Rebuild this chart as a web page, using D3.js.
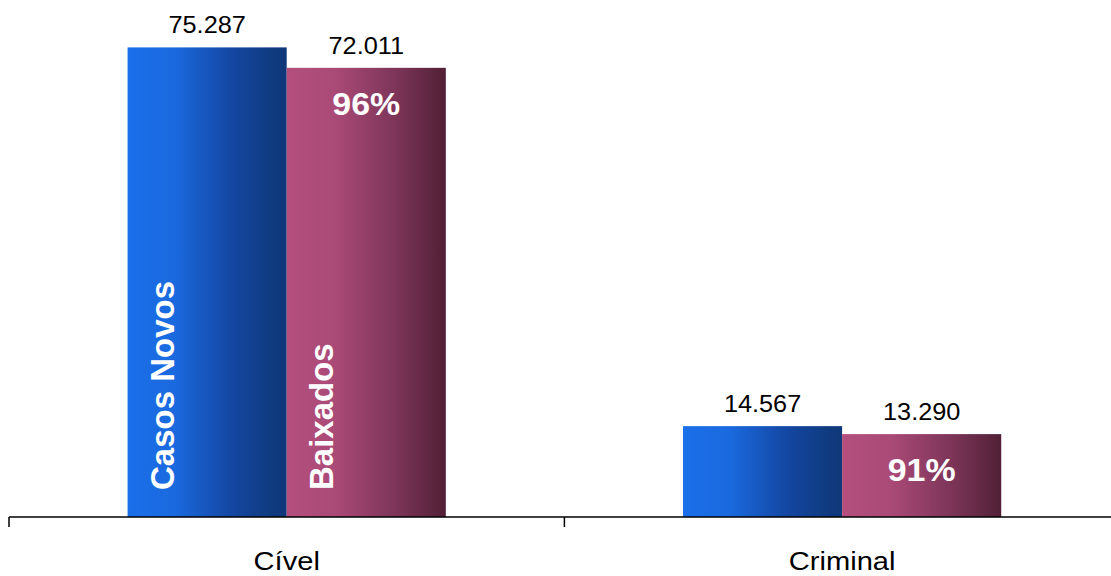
<!DOCTYPE html>
<html>
<head>
<meta charset="utf-8">
<script src="https://cdn.jsdelivr.net/npm/d3@7"></script>
<style>
  html, body { margin: 0; padding: 0; background: #fff; }
  svg { display: block; font-family: Arial, "Liberation Sans", sans-serif; }
</style>
</head>
<body>
<svg id="chart" width="1111" height="576"></svg>
<script>
// ---- data ----
const categories = ["Cível", "Criminal"];
const seriesNames = ["Casos Novos", "Baixados"];
const casosNovos = [75287, 14567];
const baixados = [72011, 13290];

// ---- layout ----
const W = 1111, H = 576;
const margin = { top: 18, left: 9, bottom: 59 };
const axisY = H - margin.bottom; // 517
const bandRight = 1119.8;

const svg = d3.select("#chart");

const locale = d3.formatLocale({ decimal: ",", thousands: ".", grouping: [3], currency: ["R$", ""] });
const fmt = locale.format(",d");

const x0 = d3.scaleBand()
  .domain(categories)
  .range([margin.left, bandRight])
  .paddingInner(0.427)
  .paddingOuter(0.2135);

const x1 = d3.scaleBand()
  .domain(seriesNames)
  .range([0, x0.bandwidth()])
  .padding(0);

const y = d3.scaleLinear()
  .domain([0, 80000])
  .range([axisY, margin.top]);

// gradients
const defs = svg.append("defs");
const gradStops = {
  "Casos Novos": [[0, "#1b6fea"], [0.3, "#1a69de"], [0.65, "#1447a3"], [0.92, "#0f3a7e"], [1, "#0f387a"]],
  "Baixados": [[0, "#b44f7d"], [0.3, "#aa4a77"], [0.7, "#7b3457"], [1, "#512036"]]
};
seriesNames.forEach((s, i) => {
  const g = defs.append("linearGradient")
    .attr("id", "grad" + i)
    .attr("x1", "0%").attr("x2", "100%").attr("y1", "0%").attr("y2", "0%");
  gradStops[s].forEach(([o, c]) => g.append("stop").attr("offset", o).attr("stop-color", c));
});

const rows = categories.map((c, i) => ({
  cat: c,
  vals: [
    { s: seriesNames[0], v: casosNovos[i], idx: 0 },
    { s: seriesNames[1], v: baixados[i], idx: 1 }
  ],
  pct: Math.round(baixados[i] / casosNovos[i] * 100)
}));

const groups = svg.selectAll("g.grp")
  .data(rows)
  .join("g")
  .attr("class", "grp")
  .attr("transform", d => `translate(${x0(d.cat)},0)`);

groups.selectAll("rect")
  .data(d => d.vals)
  .join("rect")
  .attr("x", d => x1(d.s))
  .attr("y", d => y(d.v))
  .attr("width", x1.bandwidth())
  .attr("height", d => axisY - y(d.v))
  .attr("fill", d => `url(#grad${d.idx})`);

// value labels (slightly stretched horizontally as in reference)
groups.selectAll("text.val")
  .data(d => d.vals)
  .join("text")
  .attr("class", "val")
  .attr("transform", d => `translate(${x1(d.s) + x1.bandwidth() / 2},${y(d.v) - 14}) scale(1.1,1)`)
  .attr("text-anchor", "middle")
  .attr("font-size", 23)
  .attr("fill", "#000")
  .text(d => fmt(d.v));

// percent labels in Baixados bar
groups.append("text")
  .attr("transform", d => `translate(${x1(seriesNames[1]) + x1.bandwidth() / 2},${y(d.vals[1].v) + 47}) scale(1.06,1)`)
  .attr("text-anchor", "middle")
  .attr("font-size", 32)
  .attr("font-weight", "bold")
  .attr("fill", "#fff")
  .text(d => d.pct + "%");

// rotated series names inside first category bars
const first = groups.filter((d, i) => i === 0);
first.selectAll("text.sname")
  .data(seriesNames)
  .join("text")
  .attr("class", "sname")
  .attr("transform", s => `translate(${x1(s) + 46},${axisY - 27}) rotate(-90)`)
  .attr("text-anchor", "start")
  .attr("font-size", 33)
  .attr("font-weight", "bold")
  .attr("fill", "#fff")
  .text(s => s);

// axis
const axisG = svg.append("g").attr("transform", `translate(0,${axisY})`);
axisG.append("line")
  .attr("x1", margin.left).attr("x2", bandRight)
  .attr("y1", 0).attr("y2", 0)
  .attr("stroke", "#000").attr("stroke-width", 1.5);
const boundaries = categories.map((c, i) => i === 0 ? margin.left : x0(c) - x0.step() * x0.paddingInner() / 2).concat([bandRight]);
axisG.selectAll("line.tick")
  .data(boundaries)
  .join("line")
  .attr("class", "tick")
  .attr("x1", d => d).attr("x2", d => d)
  .attr("y1", 0).attr("y2", 10)
  .attr("stroke", "#000").attr("stroke-width", 1.5);
axisG.selectAll("text.cat")
  .data(categories)
  .join("text")
  .attr("class", "cat")
  .attr("transform", c => `translate(${x0(c) + x0.bandwidth() / 2},53) scale(1.12,1)`)
  .attr("text-anchor", "middle")
  .attr("font-size", 26)
  .attr("fill", "#000")
  .text(c => c);
</script>
</body>
</html>
